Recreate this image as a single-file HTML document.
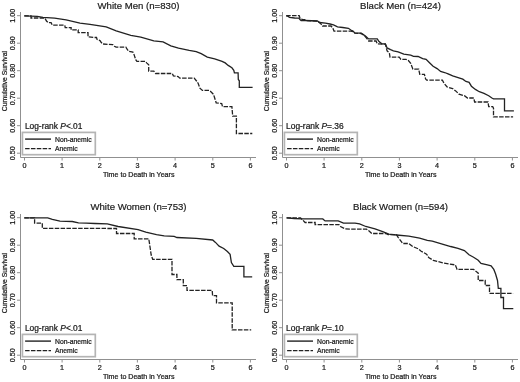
<!DOCTYPE html>
<html><head><meta charset="utf-8"><style>
html,body{margin:0;padding:0;background:#fff;}
body{width:520px;height:382px;overflow:hidden;}
svg{display:block;font-family:"Liberation Sans",Arial,sans-serif;}
text{stroke:#1a1a1a;stroke-width:0.22px;}
</style></head><body>
<svg width="520" height="382" viewBox="0 0 520 382">
<rect width="520" height="382" fill="#fff"/>
<g transform="translate(0,0)">
<text x="138.5" y="8.8" font-size="9.6" text-anchor="middle" fill="#1a1a1a" style="stroke-width:0.2px">White Men (n=830)</text>
<g stroke="#909090" stroke-width="1" fill="none">
<path d="M20.5,12V157.5H256"/>
<path d="M17,15.7H20M17,43.2H20M17,70.7H20M17,98.2H20M17,125.7H20M17,153.2H20M24.5,158V160.5M62.1,158V160.5M99.8,158V160.5M137.4,158V160.5M175.1,158V160.5M212.8,158V160.5M250.4,158V160.5"/>
</g>
<text transform="translate(14.9,15.7) rotate(-90)" font-size="7.2" text-anchor="middle" fill="#1a1a1a">1.00</text>
<text transform="translate(14.9,43.2) rotate(-90)" font-size="7.2" text-anchor="middle" fill="#1a1a1a">0.90</text>
<text transform="translate(14.9,70.7) rotate(-90)" font-size="7.2" text-anchor="middle" fill="#1a1a1a">0.80</text>
<text transform="translate(14.9,98.2) rotate(-90)" font-size="7.2" text-anchor="middle" fill="#1a1a1a">0.70</text>
<text transform="translate(14.9,125.7) rotate(-90)" font-size="7.2" text-anchor="middle" fill="#1a1a1a">0.60</text>
<text transform="translate(14.9,153.2) rotate(-90)" font-size="7.2" text-anchor="middle" fill="#1a1a1a">0.50</text>
<text x="24.5" y="167.8" font-size="7.2" text-anchor="middle" fill="#1a1a1a">0</text>
<text x="62.1" y="167.8" font-size="7.2" text-anchor="middle" fill="#1a1a1a">1</text>
<text x="99.8" y="167.8" font-size="7.2" text-anchor="middle" fill="#1a1a1a">2</text>
<text x="137.4" y="167.8" font-size="7.2" text-anchor="middle" fill="#1a1a1a">3</text>
<text x="175.1" y="167.8" font-size="7.2" text-anchor="middle" fill="#1a1a1a">4</text>
<text x="212.8" y="167.8" font-size="7.2" text-anchor="middle" fill="#1a1a1a">5</text>
<text x="250.4" y="167.8" font-size="7.2" text-anchor="middle" fill="#1a1a1a">6</text>
<text x="138.7" y="176.5" font-size="7.1" text-anchor="middle" fill="#1a1a1a">Time to Death in Years</text>
<text transform="translate(6.5,81.1) rotate(-90)" font-size="6.8" text-anchor="middle" fill="#1a1a1a">Cumulative Survival</text>
<rect x="22.4" y="132.4" width="72.9" height="22.3" fill="#fff" stroke="#b4b4b4" stroke-width="1.7"/>
<path d="M25.1,139.1H51" stroke="#222" stroke-width="1.4"/>
<path d="M25.1,148.6H51" stroke="#222" stroke-width="1.4" stroke-dasharray="4.5 1.35"/>
<text x="55" y="141.5" font-size="6.8" fill="#1a1a1a">Non-anemic</text>
<text x="55" y="151.2" font-size="6.8" fill="#1a1a1a">Anemic</text>
<text x="24.9" y="129.3" font-size="8.4" fill="#1a1a1a">Log-rank <tspan font-style="italic">P</tspan>&lt;.01</text>
</g>
<g transform="translate(262,0)">
<text x="138.5" y="8.8" font-size="9.6" text-anchor="middle" fill="#1a1a1a" style="stroke-width:0.2px">Black Men (n=424)</text>
<g stroke="#909090" stroke-width="1" fill="none">
<path d="M20.5,12V157.5H256"/>
<path d="M17,15.7H20M17,43.2H20M17,70.7H20M17,98.2H20M17,125.7H20M17,153.2H20M24.5,158V160.5M62.1,158V160.5M99.8,158V160.5M137.4,158V160.5M175.1,158V160.5M212.8,158V160.5M250.4,158V160.5"/>
</g>
<text transform="translate(14.9,15.7) rotate(-90)" font-size="7.2" text-anchor="middle" fill="#1a1a1a">1.00</text>
<text transform="translate(14.9,43.2) rotate(-90)" font-size="7.2" text-anchor="middle" fill="#1a1a1a">0.90</text>
<text transform="translate(14.9,70.7) rotate(-90)" font-size="7.2" text-anchor="middle" fill="#1a1a1a">0.80</text>
<text transform="translate(14.9,98.2) rotate(-90)" font-size="7.2" text-anchor="middle" fill="#1a1a1a">0.70</text>
<text transform="translate(14.9,125.7) rotate(-90)" font-size="7.2" text-anchor="middle" fill="#1a1a1a">0.60</text>
<text transform="translate(14.9,153.2) rotate(-90)" font-size="7.2" text-anchor="middle" fill="#1a1a1a">0.50</text>
<text x="24.5" y="167.8" font-size="7.2" text-anchor="middle" fill="#1a1a1a">0</text>
<text x="62.1" y="167.8" font-size="7.2" text-anchor="middle" fill="#1a1a1a">1</text>
<text x="99.8" y="167.8" font-size="7.2" text-anchor="middle" fill="#1a1a1a">2</text>
<text x="137.4" y="167.8" font-size="7.2" text-anchor="middle" fill="#1a1a1a">3</text>
<text x="175.1" y="167.8" font-size="7.2" text-anchor="middle" fill="#1a1a1a">4</text>
<text x="212.8" y="167.8" font-size="7.2" text-anchor="middle" fill="#1a1a1a">5</text>
<text x="250.4" y="167.8" font-size="7.2" text-anchor="middle" fill="#1a1a1a">6</text>
<text x="138.7" y="176.5" font-size="7.1" text-anchor="middle" fill="#1a1a1a">Time to Death in Years</text>
<text transform="translate(6.5,81.1) rotate(-90)" font-size="6.8" text-anchor="middle" fill="#1a1a1a">Cumulative Survival</text>
<rect x="22.4" y="132.4" width="72.9" height="22.3" fill="#fff" stroke="#b4b4b4" stroke-width="1.7"/>
<path d="M25.1,139.1H51" stroke="#222" stroke-width="1.4"/>
<path d="M25.1,148.6H51" stroke="#222" stroke-width="1.4" stroke-dasharray="4.5 1.35"/>
<text x="55" y="141.5" font-size="6.8" fill="#1a1a1a">Non-anemic</text>
<text x="55" y="151.2" font-size="6.8" fill="#1a1a1a">Anemic</text>
<text x="24.1" y="129.3" font-size="8.4" fill="#1a1a1a">Log-rank <tspan font-style="italic">P</tspan>=.36</text>
</g>
<g transform="translate(0,202)">
<text x="138.5" y="8.3" font-size="9.6" text-anchor="middle" fill="#1a1a1a" style="stroke-width:0.2px">White Women (n=753)</text>
<g stroke="#909090" stroke-width="1" fill="none">
<path d="M20.5,12V157.5H256"/>
<path d="M17,15.7H20M17,43.2H20M17,70.7H20M17,98.2H20M17,125.7H20M17,153.2H20M24.5,158V160.5M62.1,158V160.5M99.8,158V160.5M137.4,158V160.5M175.1,158V160.5M212.8,158V160.5M250.4,158V160.5"/>
</g>
<text transform="translate(14.9,15.7) rotate(-90)" font-size="7.2" text-anchor="middle" fill="#1a1a1a">1.00</text>
<text transform="translate(14.9,43.2) rotate(-90)" font-size="7.2" text-anchor="middle" fill="#1a1a1a">0.90</text>
<text transform="translate(14.9,70.7) rotate(-90)" font-size="7.2" text-anchor="middle" fill="#1a1a1a">0.80</text>
<text transform="translate(14.9,98.2) rotate(-90)" font-size="7.2" text-anchor="middle" fill="#1a1a1a">0.70</text>
<text transform="translate(14.9,125.7) rotate(-90)" font-size="7.2" text-anchor="middle" fill="#1a1a1a">0.60</text>
<text transform="translate(14.9,153.2) rotate(-90)" font-size="7.2" text-anchor="middle" fill="#1a1a1a">0.50</text>
<text x="24.5" y="167.8" font-size="7.2" text-anchor="middle" fill="#1a1a1a">0</text>
<text x="62.1" y="167.8" font-size="7.2" text-anchor="middle" fill="#1a1a1a">1</text>
<text x="99.8" y="167.8" font-size="7.2" text-anchor="middle" fill="#1a1a1a">2</text>
<text x="137.4" y="167.8" font-size="7.2" text-anchor="middle" fill="#1a1a1a">3</text>
<text x="175.1" y="167.8" font-size="7.2" text-anchor="middle" fill="#1a1a1a">4</text>
<text x="212.8" y="167.8" font-size="7.2" text-anchor="middle" fill="#1a1a1a">5</text>
<text x="250.4" y="167.8" font-size="7.2" text-anchor="middle" fill="#1a1a1a">6</text>
<text x="138.7" y="176.5" font-size="7.1" text-anchor="middle" fill="#1a1a1a">Time to Death in Years</text>
<text transform="translate(6.5,81.1) rotate(-90)" font-size="6.8" text-anchor="middle" fill="#1a1a1a">Cumulative Survival</text>
<rect x="22.4" y="132.4" width="72.9" height="22.3" fill="#fff" stroke="#b4b4b4" stroke-width="1.7"/>
<path d="M25.1,139.1H51" stroke="#222" stroke-width="1.4"/>
<path d="M25.1,148.6H51" stroke="#222" stroke-width="1.4" stroke-dasharray="4.5 1.35"/>
<text x="55" y="141.5" font-size="6.8" fill="#1a1a1a">Non-anemic</text>
<text x="55" y="151.2" font-size="6.8" fill="#1a1a1a">Anemic</text>
<text x="24.9" y="129.3" font-size="8.4" fill="#1a1a1a">Log-rank <tspan font-style="italic">P</tspan>&lt;.01</text>
</g>
<g transform="translate(262,202)">
<text x="138.5" y="8.3" font-size="9.6" text-anchor="middle" fill="#1a1a1a" style="stroke-width:0.2px">Black Women (n=594)</text>
<g stroke="#909090" stroke-width="1" fill="none">
<path d="M20.5,12V157.5H256"/>
<path d="M17,15.7H20M17,43.2H20M17,70.7H20M17,98.2H20M17,125.7H20M17,153.2H20M24.5,158V160.5M62.1,158V160.5M99.8,158V160.5M137.4,158V160.5M175.1,158V160.5M212.8,158V160.5M250.4,158V160.5"/>
</g>
<text transform="translate(14.9,15.7) rotate(-90)" font-size="7.2" text-anchor="middle" fill="#1a1a1a">1.00</text>
<text transform="translate(14.9,43.2) rotate(-90)" font-size="7.2" text-anchor="middle" fill="#1a1a1a">0.90</text>
<text transform="translate(14.9,70.7) rotate(-90)" font-size="7.2" text-anchor="middle" fill="#1a1a1a">0.80</text>
<text transform="translate(14.9,98.2) rotate(-90)" font-size="7.2" text-anchor="middle" fill="#1a1a1a">0.70</text>
<text transform="translate(14.9,125.7) rotate(-90)" font-size="7.2" text-anchor="middle" fill="#1a1a1a">0.60</text>
<text transform="translate(14.9,153.2) rotate(-90)" font-size="7.2" text-anchor="middle" fill="#1a1a1a">0.50</text>
<text x="24.5" y="167.8" font-size="7.2" text-anchor="middle" fill="#1a1a1a">0</text>
<text x="62.1" y="167.8" font-size="7.2" text-anchor="middle" fill="#1a1a1a">1</text>
<text x="99.8" y="167.8" font-size="7.2" text-anchor="middle" fill="#1a1a1a">2</text>
<text x="137.4" y="167.8" font-size="7.2" text-anchor="middle" fill="#1a1a1a">3</text>
<text x="175.1" y="167.8" font-size="7.2" text-anchor="middle" fill="#1a1a1a">4</text>
<text x="212.8" y="167.8" font-size="7.2" text-anchor="middle" fill="#1a1a1a">5</text>
<text x="250.4" y="167.8" font-size="7.2" text-anchor="middle" fill="#1a1a1a">6</text>
<text x="138.7" y="176.5" font-size="7.1" text-anchor="middle" fill="#1a1a1a">Time to Death in Years</text>
<text transform="translate(6.5,81.1) rotate(-90)" font-size="6.8" text-anchor="middle" fill="#1a1a1a">Cumulative Survival</text>
<rect x="22.4" y="132.4" width="72.9" height="22.3" fill="#fff" stroke="#b4b4b4" stroke-width="1.7"/>
<path d="M25.1,139.1H51" stroke="#222" stroke-width="1.4"/>
<path d="M25.1,148.6H51" stroke="#222" stroke-width="1.4" stroke-dasharray="4.5 1.35"/>
<text x="55" y="141.5" font-size="6.8" fill="#1a1a1a">Non-anemic</text>
<text x="55" y="151.2" font-size="6.8" fill="#1a1a1a">Anemic</text>
<text x="24.1" y="129.3" font-size="8.4" fill="#1a1a1a">Log-rank <tspan font-style="italic">P</tspan>=.10</text>
</g>
<polyline points="24.3,15.8 37.3,16.3 43.0,17.4 54.6,18.2 66.1,19.8 80.0,23.1 90.0,24.3 106.2,26.9 116.2,30.8 130.8,35.4 140.8,37.2 153.8,40.8 163.1,41.9 170.8,45.8 178.5,48.1 189.2,50.4 196.2,51.6 201.2,53.7 207.3,57.1 214.7,58.9 222.1,61.3 225.2,62.9 228.2,65.4 231.9,67.8 233.8,70.3 234.4,72.8 238.1,72.8 238.3,79.5 239.3,80.8 239.3,87.4 252.6,87.4" fill="none" stroke="#222" stroke-width="1.3"/>
<polyline points="24.3,15.8 31.0,15.8 31.0,18.0 44.8,18.0 46.5,21.0 48.3,22.7 51.1,22.7 52.3,25.2 64.8,25.2 65.2,27.6 71.1,27.6 71.1,29.9 78.2,29.9 78.2,32.7 88.0,32.7 88.0,36.8 94.2,37.5 96.5,37.5 97.1,39.4 100.0,40.6 101.1,42.3 102.9,44.0 112.7,44.6 114.4,46.3 116.1,47.1 125.9,47.1 127.1,49.2 128.8,51.3 132.9,52.1 134.0,54.4 135.7,59.6 136.9,61.3 145.2,61.3 146.9,63.1 148.7,64.8 148.7,71.1 153.8,71.1 155.6,73.5 172.3,73.5 173.4,75.8 178.1,76.5 179.8,78.1 194.2,78.1 196.5,81.0 198.1,83.2 199.9,88.2 202.4,90.4 209.2,90.4 210.4,91.2 213.5,94.3 216.2,102.8 221.7,103.6 222.5,106.7 231.9,106.7 232.7,116.2 236.4,116.2 236.4,133.5 252.3,133.5" fill="none" stroke="#222" stroke-width="1.3" stroke-dasharray="4.5 1.35"/>
<polyline points="286.2,15.8 287.7,16.2 289.5,17.3 294.6,18.0 298.8,18.2 299.9,19.6 301.1,20.5 305.2,20.5 317.4,21.0 319.7,22.5 325.4,23.1 330.0,24.0 333.5,24.8 337.5,26.8 342.7,27.5 348.4,28.3 350.8,30.0 353.0,31.1 354.8,32.9 361.1,33.2 363.4,34.6 365.7,36.3 368.6,38.9 377.3,38.9 379.0,41.5 381.9,43.8 385.4,43.8 387.1,47.9 390.6,49.6 393.4,50.8 398.1,51.9 403.8,54.2 410.7,55.1 413.5,56.3 418.1,56.5 422.7,58.6 426.1,59.4 429.0,62.3 433.1,66.3 437.1,68.6 440.6,71.5 444.6,72.5 448.1,73.8 452.7,75.9 458.1,77.6 462.8,79.2 465.9,81.5 469.1,82.3 471.4,86.2 475.4,89.4 479.3,91.7 484.0,93.3 488.7,95.7 491.9,98.0 493.5,98.8 504.5,98.8 504.5,110.9 513.9,110.9" fill="none" stroke="#222" stroke-width="1.3"/>
<polyline points="286.2,15.6 299.2,15.6 300.2,18.9 302.5,19.4 304.5,19.6 306.0,20.6 317.4,21.2 320.8,23.7 322.5,26.0 331.1,26.0 332.9,28.3 334.0,31.1 350.8,31.1 353.6,31.9 354.8,33.2 361.1,33.5 363.4,35.0 365.7,37.0 368.7,41.0 376.1,41.0 377.3,43.8 385.4,44.2 387.1,50.8 389.4,53.1 390.0,57.1 399.2,57.1 400.9,59.4 406.1,59.4 408.4,60.6 410.7,63.4 412.9,69.2 418.7,69.2 419.8,74.4 424.4,74.4 425.6,79.0 426.7,80.2 442.4,80.2 443.9,83.1 447.1,87.0 452.6,88.6 455.7,90.9 458.9,94.1 464.4,95.7 467.5,98.0 473.8,98.0 474.6,102.0 488.0,102.0 488.7,106.7 492.7,106.7 493.5,108.2 493.5,116.9 513.1,116.9" fill="none" stroke="#222" stroke-width="1.3" stroke-dasharray="4.5 1.35"/>
<polyline points="24.3,217.8 47.7,217.8 52.3,219.4 60.0,221.2 72.3,221.5 78.5,222.8 86.2,223.1 95.0,223.5 107.3,223.9 118.1,226.5 138.1,229.6 145.8,232.2 156.5,234.7 164.2,235.8 174.2,236.4 176.9,237.5 196.2,238.4 212.7,240.0 215.5,242.4 219.1,246.1 223.7,248.5 227.4,251.6 230.1,254.4 231.4,262.6 233.8,266.3 243.9,266.3 243.9,276.9 252.2,276.9" fill="none" stroke="#222" stroke-width="1.3"/>
<polyline points="24.3,217.8 34.6,217.8 34.6,223.1 42.3,223.1 42.3,228.3 116.5,228.5 116.5,233.5 134.2,233.5 134.2,238.8 148.8,238.8 151.2,255.0 152.7,259.3 172.0,259.3 172.0,274.5 176.9,274.5 176.9,279.7 183.3,279.7 183.3,285.6 187.0,285.6 187.0,290.4 212.2,290.4 212.6,295.7 216.5,295.7 216.5,302.8 232.2,302.8 232.2,329.9 251.2,329.9" fill="none" stroke="#222" stroke-width="1.3" stroke-dasharray="4.5 1.35"/>
<polyline points="286.6,217.8 294.3,218.5 302.0,218.9 322.8,218.9 325.1,220.9 338.2,220.9 343.5,223.1 355.0,223.1 359.6,223.9 365.8,226.5 375.0,228.8 382.7,231.6 388.8,234.2 396.5,235.0 408.8,236.2 419.6,238.1 427.3,240.4 432.3,241.2 441.5,243.8 450.7,246.5 458.0,248.3 464.4,250.6 469.0,254.8 473.6,257.2 478.2,260.3 481.0,263.4 487.4,264.9 491.1,265.8 493.8,269.4 495.6,274.0 497.5,280.5 498.3,288.3 500.9,288.3 500.9,297.5 503.5,297.5 503.5,308.6 513.3,308.6" fill="none" stroke="#222" stroke-width="1.3"/>
<polyline points="286.6,217.8 300.5,217.8 305.1,222.5 315.1,222.5 315.1,224.6 338.9,224.6 340.5,226.6 345.1,228.9 355.0,229.2 366.5,229.2 368.8,230.7 371.9,233.5 385.8,233.5 388.1,234.7 396.5,234.7 398.1,237.3 400.4,240.4 402.7,243.5 408.8,243.5 412.7,246.5 418.1,248.8 421.2,251.2 425.8,253.8 426.8,254.5 428.7,257.5 433.3,260.3 443.3,263.0 455.3,264.9 457.1,269.4 473.6,269.4 478.2,273.1 478.2,280.5 485.2,280.5 485.2,285.5 489.5,285.5 489.5,293.4 513.1,293.4" fill="none" stroke="#222" stroke-width="1.3" stroke-dasharray="4.5 1.35"/>
</svg></body></html>
